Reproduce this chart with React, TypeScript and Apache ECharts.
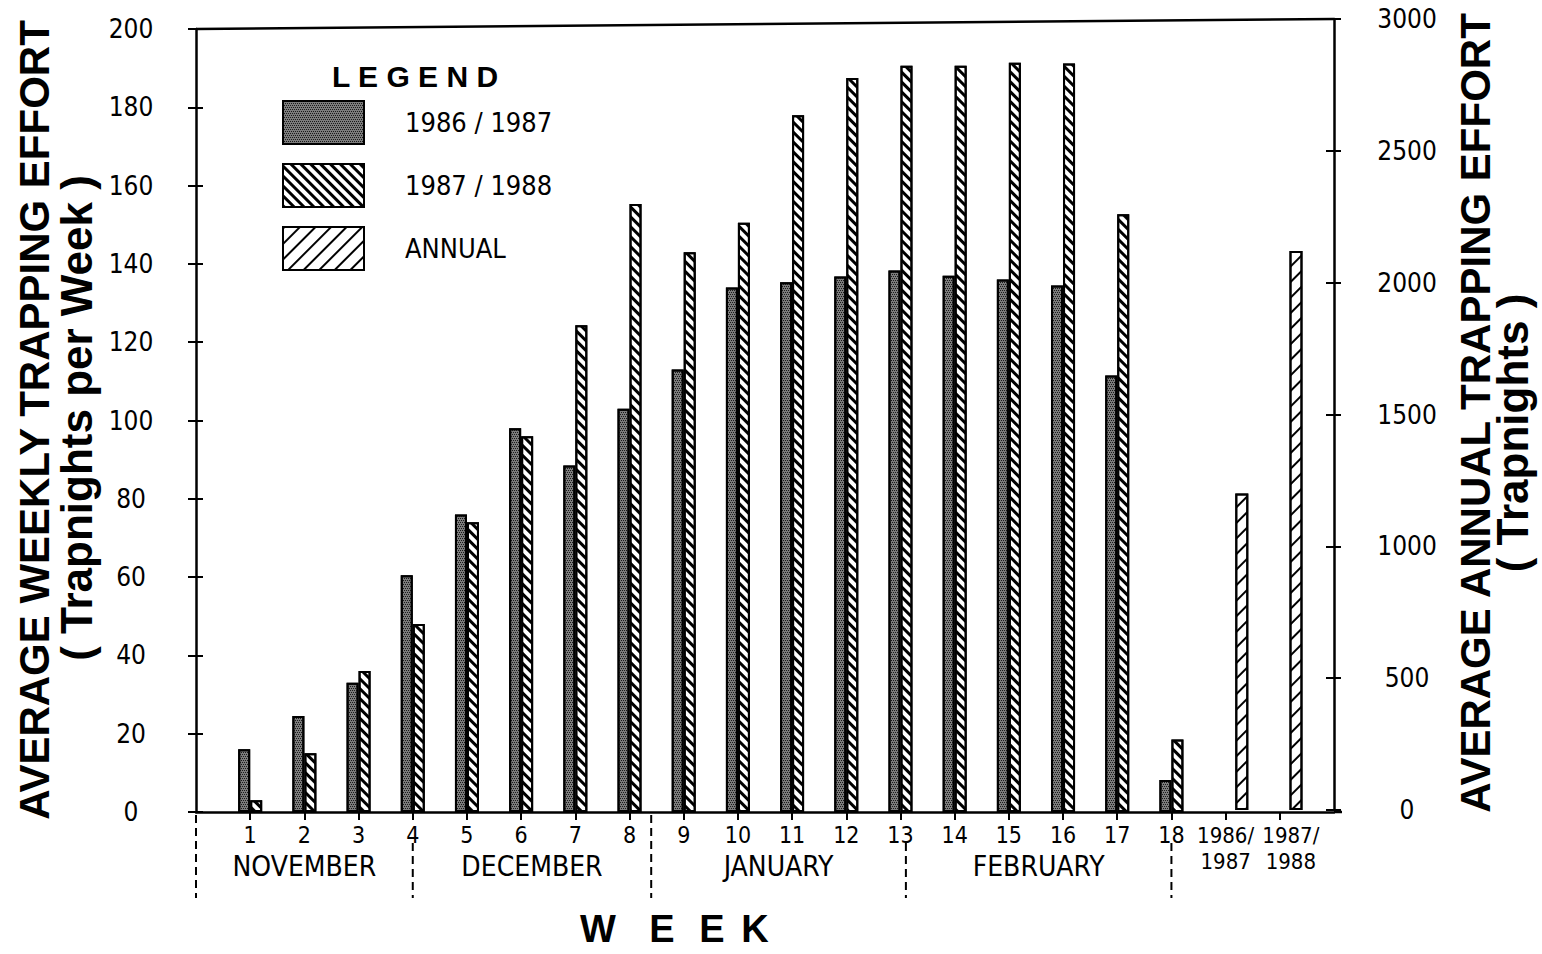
import React, { useEffect, useRef } from 'react';
import * as echarts from 'echarts';

// ---- data ----
const weekLabels = ['1', '2', '3', '4', '5', '6', '7', '8', '9', '10', '11', '12', '13', '14', '15', '16', '17', '18'];
const annualLabels = ['1986/\n1987', '1987/\n1988'];
const season1986 = [16, 24.5, 33, 60.5, 76, 98, 88.5, 103, 113, 134, 135.3, 136.8, 138.3, 137, 136, 134.5, 111.5, 8.2];
const season1987 = [3, 15, 36, 48, 74, 96, 124.3, 155.3, 143, 150.5, 178, 187.5, 190.6, 190.6, 191.4, 191.2, 152.7, 18.5];
const annualTotals = [1200, 2120];
const seriesNames = ['1986 / 1987', '1987 / 1988', 'ANNUAL'];
const months = ['NOVEMBER', 'DECEMBER', 'JANUARY', 'FEBRUARY'];
const monthBounds = [0, 4, 8.4, 13.1, 18];
const weeklyAxis = { min: 0, max: 200, interval: 20 };
const annualAxis = { min: 0, max: 3000, interval: 500 };

const FONT_COND = "'DejaVu Sans Condensed', 'DejaVu Sans', sans-serif";
const FONT_BOLD = "'Liberation Sans', Arial, sans-serif";

export default function App() {
  const ref = useRef<HTMLDivElement>(null);

  useEffect(() => {
    const chart = echarts.init(ref.current!, null, { renderer: 'svg' });
    const categories = ['', ...weekLabels, ...annualLabels, ' '];
    const nWeeks = weekLabels.length;
    const blanksAfterWeeks = annualLabels.length + 1;
    const s1 = [null, ...season1986, ...Array(blanksAfterWeeks).fill(null)];
    const s2 = [null, ...season1987, ...Array(blanksAfterWeeks).fill(null)];
    const s3 = [null, ...Array(nWeeks).fill(null), ...annualTotals, null];
    const spacer = categories.map(() => null);
    const lastAnnual = annualLabels[annualLabels.length - 1];

    const stipple = {
      symbol: 'rect',
      symbolSize: 1,
      color: '#1a1a1a',
      dashArrayX: [[1, 1], [0, 1, 1, 0]],
      dashArrayY: [1, 1],
      rotation: 0,
    };
    const hatchBack = {
      symbol: 'rect',
      symbolSize: 1,
      color: '#000',
      dashArrayX: [1, 0],
      dashArrayY: [3, 4],
      rotation: Math.PI / 4,
    };
    const hatchFwd = {
      symbol: 'rect',
      symbolSize: 1,
      color: '#000',
      dashArrayX: [1, 0],
      dashArrayY: [2, 9],
      rotation: -Math.PI / 4,
    };

    const axisLineStyle = { color: '#000', width: 2.5 };
    const tickStyle = { color: '#000', width: 2 };

    const option: any = {
      animation: false,
      backgroundColor: '#fff',
      grid: [
        { left: 196, right: 208, top: 29, bottom: 142 },
        { left: 196, right: 208, top: 19, bottom: 144 },
      ],
      legend: {
        data: seriesNames,
        orient: 'vertical',
        left: 277,
        top: 95,
        itemWidth: 81,
        itemHeight: 43,
        itemGap: 18,
        icon: 'rect',
        selectedMode: false,
        itemStyle: { borderColor: '#000', borderWidth: 2 },
        formatter: '{t|{name}}',
        textStyle: {
          color: '#000',
          fontSize: 27,
          fontFamily: FONT_COND,
          rich: { t: { padding: [0, 0, 0, 36], fontSize: 27, fontFamily: FONT_COND, color: '#000' } },
        },
      },
      xAxis: [
        {
          type: 'category',
          gridIndex: 0,
          data: categories,
          boundaryGap: false,
          axisLine: { lineStyle: axisLineStyle },
          axisTick: {
            show: true,
            interval: (i: number) => i > 0 && i < categories.length - 1,
            length: 8,
            lineStyle: tickStyle,
          },
          axisLabel: {
            interval: 0,
            color: '#000',
            fontSize: 23,
            lineHeight: 26,
            fontFamily: FONT_COND,
            margin: 10,
            formatter: (v: string) => {
              if (annualLabels.indexOf(v) < 0) return v;
              const style = v === lastAnnual ? 'b' : 'a';
              return v
                .split('\n')
                .map((s) => `{${style}|${s}}`)
                .join('\n');
            },
            rich: {
              a: { fontSize: 22, lineHeight: 26, fontFamily: FONT_COND, color: '#000' },
              b: { fontSize: 22, lineHeight: 26, fontFamily: FONT_COND, color: '#000', padding: [0, 0, 0, 22] },
            },
          },
          splitLine: { show: false },
        },
        {
          type: 'category',
          gridIndex: 1,
          data: categories,
          boundaryGap: false,
          show: false,
        },
      ],
      yAxis: [
        {
          type: 'value',
          gridIndex: 0,
          position: 'left',
          ...weeklyAxis,
          axisLine: { show: true, lineStyle: axisLineStyle },
          axisTick: { show: true, inside: false, length: 8, lineStyle: tickStyle },
          axisLabel: { color: '#000', fontSize: 26, fontFamily: FONT_COND, align: 'center', margin: 65, formatter: (v: number) => String(v) },
          splitLine: { show: false },
        },
        {
          type: 'value',
          gridIndex: 0,
          position: 'left',
          ...weeklyAxis,
          axisLine: { show: false },
          axisTick: { show: true, inside: true, length: 7, lineStyle: tickStyle },
          axisLabel: { show: false },
          splitLine: { show: false },
        },
        {
          type: 'value',
          gridIndex: 1,
          position: 'right',
          ...annualAxis,
          axisLine: { show: true, lineStyle: axisLineStyle },
          axisTick: { show: true, inside: false, length: 7, lineStyle: tickStyle },
          axisLabel: { color: '#000', fontSize: 26, fontFamily: FONT_COND, align: 'center', margin: 73, formatter: (v: number) => String(v) },
          splitLine: { show: false },
        },
        {
          type: 'value',
          gridIndex: 1,
          position: 'right',
          ...annualAxis,
          axisLine: { show: false },
          axisTick: { show: true, inside: true, length: 8, lineStyle: tickStyle },
          axisLabel: { show: false },
          splitLine: { show: false },
        },
      ],
      series: [
        {
          type: 'bar',
          name: seriesNames[0],
          xAxisIndex: 0,
          yAxisIndex: 0,
          data: s1,
          barWidth: 12,
          barGap: '0%',
          itemStyle: { color: '#7c7c7c', borderColor: '#000', borderWidth: 2, decal: stipple },
        },
        {
          type: 'bar',
          name: seriesNames[1],
          xAxisIndex: 0,
          yAxisIndex: 0,
          data: s2,
          barWidth: 12,
          barGap: '0%',
          itemStyle: { color: '#fff', borderColor: '#000', borderWidth: 2, decal: hatchBack },
        },
        {
          type: 'bar',
          name: 'spacer',
          xAxisIndex: 1,
          yAxisIndex: 2,
          data: spacer,
          barWidth: 13,
          barGap: '149%',
          itemStyle: { color: 'transparent' },
        },
        {
          type: 'bar',
          name: seriesNames[2],
          xAxisIndex: 1,
          yAxisIndex: 2,
          data: s3,
          barWidth: 13,
          barGap: '149%',
          itemStyle: { color: '#fff', borderColor: '#000', borderWidth: 2, decal: hatchFwd },
        },
      ],
    };

    chart.setOption(option);

    const px = (i: number) => {
      const a = chart.convertToPixel({ xAxisIndex: 0 }, 0) as number;
      const b = chart.convertToPixel({ xAxisIndex: 0 }, 1) as number;
      return a + (b - a) * i;
    };
    const axisY = chart.convertToPixel({ yAxisIndex: 0 }, weeklyAxis.min) as number;
    const topLeftY = chart.convertToPixel({ yAxisIndex: 0 }, weeklyAxis.max) as number;
    const topRightY = chart.convertToPixel({ yAxisIndex: 2 }, annualAxis.max) as number;
    const xLeft = px(0);
    const xRight = px(categories.length - 1);

    const graphic: any[] = [];
    graphic.push({
      type: 'line',
      shape: { x1: xLeft, y1: topLeftY, x2: xRight, y2: topRightY },
      style: { stroke: '#000', lineWidth: 2.5 },
    });
    graphic.push({
      type: 'line',
      shape: { x1: xRight, y1: axisY, x2: xRight + 8, y2: axisY },
      style: { stroke: '#000', lineWidth: 2.5 },
    });
    monthBounds.forEach((b) => {
      const nearTick = b > 0 && Math.abs(b - Math.round(b)) < 0.2;
      graphic.push({
        type: 'line',
        shape: { x1: px(b), y1: axisY + (nearTick ? 31 : 3), x2: px(b), y2: axisY + 86 },
        style: { stroke: '#000', lineWidth: 2, lineDash: [8, 5] },
      });
    });
    months.forEach((m, i) => {
      graphic.push({
        type: 'text',
        x: (px(monthBounds[i]) + px(monthBounds[i + 1])) / 2,
        y: axisY + 54,
        style: {
          text: m,
          fill: '#000',
          fontSize: 28,
          fontFamily: FONT_COND,
          align: 'center',
          verticalAlign: 'middle',
        },
      });
    });
    const boldText = (text: string, x: number, y: number, size: number, rot = 0) => ({
      type: 'text',
      x,
      y,
      rotation: rot,
      style: {
        text,
        fill: '#000',
        fontSize: size,
        fontWeight: 'bold',
        fontFamily: FONT_BOLD,
        align: 'center',
        verticalAlign: 'middle',
      },
    });
    graphic.push(boldText('AVERAGE WEEKLY TRAPPING EFFORT', 34, 420, 42, Math.PI / 2));
    graphic.push(boldText('( Trapnights per Week )', 76, 418, 44, Math.PI / 2));
    graphic.push(boldText('AVERAGE ANNUAL TRAPPING EFFORT', 1475, 413, 42, Math.PI / 2));
    graphic.push(boldText('( Trapnights )', 1512, 433, 44, Math.PI / 2));
    graphic.push(boldText('L E G E N D', 415, 76, 30));
    const weekLetters = ['W', 'E', 'E', 'K'];
    const weekX = [598, 662, 712, 755];
    weekLetters.forEach((l, i) => graphic.push(boldText(l, weekX[i], 929, 38)));

    chart.setOption({ graphic });

    return () => chart.dispose();
  }, []);

  return (
    <div
      ref={ref}
      style={{ position: 'fixed', left: 0, top: 0, width: 1542, height: 954, background: '#fff' }}
    />
  );
}
